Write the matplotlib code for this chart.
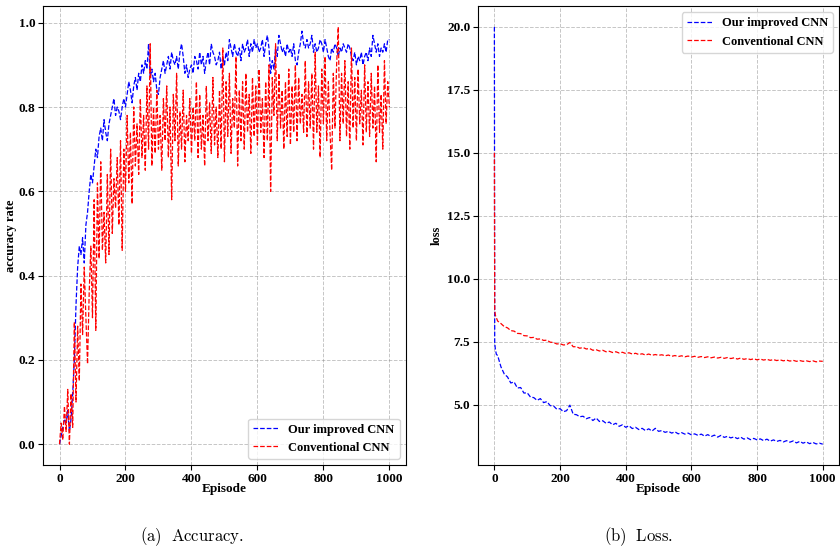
import matplotlib
matplotlib.use('Agg')
import matplotlib.pyplot as plt
import numpy as np

# accuracy, read every 5 episodes
acc_episodes = list(range(0, 1001, 5))
acc_improved = [
    0.00, 0.02, 0.04, 0.06, 0.05, 0.08, 0.03, 0.06, 0.12, 0.20,
    0.33, 0.42, 0.47, 0.45, 0.49, 0.43, 0.52, 0.55, 0.60, 0.64,
    0.62, 0.66, 0.70, 0.68, 0.73, 0.75, 0.72, 0.77, 0.74, 0.72,
    0.76, 0.78, 0.80, 0.82, 0.78, 0.80, 0.79, 0.77, 0.80, 0.82,
    0.80, 0.83, 0.86, 0.84, 0.81, 0.85, 0.87, 0.84, 0.88, 0.86,
    0.90, 0.88, 0.91, 0.89, 0.95, 0.87, 0.89, 0.86, 0.88, 0.84,
    0.83, 0.87, 0.89, 0.91, 0.88, 0.90, 0.92, 0.89, 0.93, 0.91,
    0.90, 0.92, 0.89, 0.93, 0.95, 0.92, 0.88, 0.90, 0.87, 0.89,
    0.90, 0.88, 0.92, 0.91, 0.89, 0.93, 0.90, 0.92, 0.88, 0.91,
    0.93, 0.90, 0.95, 0.93, 0.92, 0.90, 0.91, 0.93, 0.89, 0.92,
    0.90, 0.93, 0.91, 0.96, 0.94, 0.92, 0.95, 0.93, 0.92, 0.94,
    0.91, 0.95, 0.93, 0.94, 0.96, 0.92, 0.95, 0.93, 0.96, 0.94,
    0.95, 0.93, 0.94, 0.96, 0.92, 0.95, 0.97, 0.94, 0.88, 0.91,
    0.89, 0.94, 0.92, 0.97, 0.95, 0.93, 0.94, 0.92, 0.95, 0.93,
    0.94, 0.92, 0.95, 0.91, 0.90, 0.93, 0.95, 0.98, 0.95, 0.94,
    0.96, 0.94, 0.95, 0.97, 0.93, 0.95, 0.93, 0.94, 0.96, 0.95,
    0.93, 0.96, 0.94, 0.92, 0.91, 0.94, 0.93, 0.95, 0.94, 0.92,
    0.94, 0.93, 0.95, 0.94, 0.93, 0.95, 0.94, 0.92, 0.91, 0.93,
    0.90, 0.92, 0.91, 0.93, 0.90, 0.92, 0.93, 0.91, 0.94, 0.92,
    0.97, 0.95, 0.93, 0.95, 0.92, 0.94, 0.93, 0.95, 0.93, 0.96,
    0.96,
]
acc_conventional = [
    0.00, 0.05, 0.01, 0.09, 0.03, 0.13, 0.00, 0.12, 0.04, 0.29,
    0.10, 0.28, 0.15, 0.38, 0.26, 0.42, 0.30, 0.19, 0.36, 0.47,
    0.30, 0.58, 0.27, 0.62, 0.44, 0.67, 0.46, 0.55, 0.43, 0.64,
    0.45, 0.70, 0.50, 0.63, 0.56, 0.68, 0.52, 0.72, 0.46, 0.70,
    0.60, 0.78, 0.62, 0.74, 0.57, 0.80, 0.66, 0.76, 0.64, 0.82,
    0.68, 0.78, 0.65, 0.85, 0.70, 0.95, 0.66, 0.80, 0.69, 0.84,
    0.70, 0.78, 0.65, 0.82, 0.72, 0.85, 0.68, 0.80, 0.58, 0.83,
    0.72, 0.88, 0.66, 0.79, 0.70, 0.84, 0.67, 0.78, 0.72, 0.82,
    0.69, 0.80, 0.72, 0.86, 0.68, 0.83, 0.70, 0.78, 0.66, 0.85,
    0.72, 0.81, 0.69, 0.87, 0.71, 0.80, 0.68, 0.84, 0.70, 0.94,
    0.67, 0.86, 0.73, 0.88, 0.69, 0.82, 0.75, 0.92, 0.66, 0.84,
    0.72, 0.86, 0.70, 0.88, 0.74, 0.83, 0.69, 0.87, 0.73, 0.85,
    0.71, 0.89, 0.74, 0.82, 0.68, 0.86, 0.72, 0.90, 0.60, 0.87,
    0.78, 0.95, 0.72, 0.88, 0.75, 0.84, 0.70, 0.86, 0.73, 0.89,
    0.71, 0.85, 0.74, 0.90, 0.72, 0.87, 0.76, 0.83, 0.74, 0.91,
    0.73, 0.86, 0.75, 0.88, 0.70, 0.93, 0.74, 0.85, 0.68, 0.89,
    0.76, 0.92, 0.72, 0.86, 0.74, 0.65, 0.88, 0.75, 0.90, 0.99,
    0.72, 0.88, 0.76, 0.91, 0.73, 0.86, 0.70, 0.94, 0.75, 0.87,
    0.72, 0.89, 0.76, 0.84, 0.71, 0.90, 0.74, 0.86, 0.73, 0.88,
    0.75, 0.85, 0.67, 0.90, 0.74, 0.83, 0.70, 0.91, 0.76, 0.86,
    0.80,
]

# loss
loss_episodes = [0, 1, 3, 6] + list(range(10, 1001, 10))
loss_improved = [
    20.0, 7.45, 7.20, 7.00,
    6.95, 6.50, 6.22, 6.10, 5.86, 5.90, 5.66, 5.68, 5.46, 5.47,
    5.30, 5.28, 5.17, 5.24, 5.08, 5.12, 4.96, 4.95, 4.82, 4.84,
    4.72, 4.76, 4.98, 4.62, 4.60, 4.52, 4.54, 4.44, 4.49, 4.37,
    4.47, 4.33, 4.36, 4.26, 4.31, 4.20, 4.26, 4.14, 4.20, 4.10,
    4.16, 4.05, 4.10, 4.01, 4.06, 3.97, 4.04, 3.95, 4.06, 3.94,
    3.97, 3.90, 3.94, 3.87, 3.92, 3.84, 3.89, 3.83, 3.87, 3.80,
    3.84, 3.78, 3.83, 3.75, 3.81, 3.73, 3.79, 3.71, 3.78, 3.70,
    3.74, 3.68, 3.72, 3.65, 3.71, 3.63, 3.68, 3.61, 3.66, 3.60,
    3.64, 3.57, 3.63, 3.55, 3.60, 3.54, 3.58, 3.52, 3.57, 3.51,
    3.56, 3.48, 3.54, 3.47, 3.52, 3.45, 3.50, 3.44, 3.47, 3.43,
]
loss_conventional = [
    15.0, 8.75, 8.55, 8.45,
    8.32, 8.22, 8.10, 8.05, 7.94, 7.92, 7.83, 7.82, 7.74, 7.73,
    7.66, 7.67, 7.60, 7.61, 7.55, 7.56, 7.48, 7.47, 7.41, 7.42,
    7.37, 7.38, 7.47, 7.30, 7.30, 7.24, 7.27, 7.21, 7.23, 7.16,
    7.18, 7.13, 7.16, 7.10, 7.12, 7.07, 7.10, 7.05, 7.08, 7.03,
    7.06, 7.01, 7.04, 6.99, 7.02, 6.97, 7.01, 6.96, 6.99, 6.96,
    6.98, 6.94, 6.97, 6.92, 6.95, 6.91, 6.94, 6.90, 6.93, 6.89,
    6.92, 6.88, 6.91, 6.87, 6.90, 6.86, 6.89, 6.85, 6.88, 6.84,
    6.87, 6.83, 6.86, 6.81, 6.85, 6.80, 6.83, 6.79, 6.82, 6.78,
    6.81, 6.77, 6.80, 6.76, 6.79, 6.75, 6.78, 6.74, 6.77, 6.73,
    6.76, 6.72, 6.75, 6.72, 6.74, 6.71, 6.74, 6.70, 6.73, 6.72,
]

labels = ['Our improved CNN', 'Conventional CNN']

plt.rcParams['font.family'] = ['Liberation Serif', 'DejaVu Serif']
plt.rcParams['font.weight'] = 'bold'
plt.rcParams['mathtext.fontset'] = 'cm'

fig = plt.figure(figsize=(8.4, 5.51), dpi=100)
ax1 = fig.add_axes([0.0512, 0.156, 0.432, 0.833])
ax2 = fig.add_axes([0.569, 0.156, 0.430, 0.833])

ax1.plot(acc_episodes, acc_improved, '--', color='blue', lw=0.9, label=labels[0])
ax1.plot(acc_episodes, acc_conventional, '--', color='red', lw=0.9, label=labels[1])
ax1.set_ylabel('accuracy rate', fontsize=9, fontweight='bold', labelpad=1)
ax1.legend(loc='lower right', fontsize=9)

ax2.plot(loss_episodes, loss_improved, '--', color='blue', lw=0.9, label=labels[0])
ax2.plot(loss_episodes, loss_conventional, '--', color='red', lw=0.9, label=labels[1])
ax2.set_ylabel('loss', fontsize=9, fontweight='bold', labelpad=3)
ax2.legend(loc='upper right', fontsize=9)

for ax in (ax1, ax2):
    ax.set_xlabel('Episode', fontsize=9.5, fontweight='bold', labelpad=-1)
    ax.grid(True, linestyle='--', color='gray', alpha=0.45, lw=0.7)
    ax.tick_params(labelsize=9.5, pad=2)
    for lab in ax.get_xticklabels() + ax.get_yticklabels():
        lab.set_fontweight('bold')

fig.text(0.229, 0.018, r'$\mathrm{(a)\ \ Accuracy.}$', fontsize=12, ha='center')
fig.text(0.760, 0.018, r'$\mathrm{(b)\ \ Loss.}$', fontsize=12, ha='center')

fig.savefig('out.png', dpi=100)
